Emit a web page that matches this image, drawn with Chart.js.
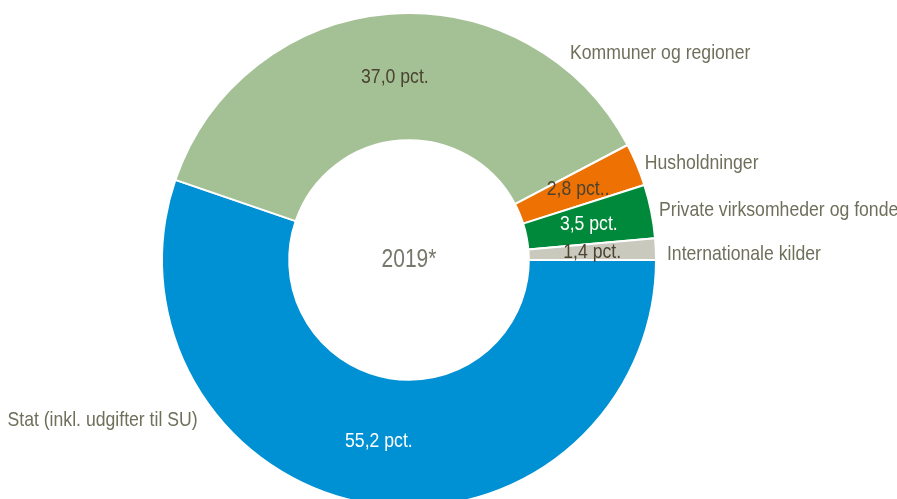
<!DOCTYPE html>
<html>
<head>
<meta charset="utf-8">
<script src="https://cdn.jsdelivr.net/npm/chart.js@4/dist/chart.umd.min.js"></script>
<style>
  html, body { margin: 0; padding: 0; background: #fff; overflow: hidden; }
  #wrap { width: 897px; height: 520px; position: relative; }
</style>
</head>
<body>
<div id="wrap"><canvas id="chartcontainer"></canvas></div>
<script>
// kategorier og andele (pct.)
var categories = ["Stat (inkl. udgifter til SU)", "Kommuner og regioner", "Husholdninger", "Private virksomheder og fonde", "Internationale kilder"];
var shares = [55.2, 37.0, 2.8, 3.5, 1.4];
var valueLabels = ["55,2 pct.", "37,0 pct.", "2,8 pct..", "3,5 pct.", "1,4 pct."];
var centerText = "2019*";

var colors = ['#0090d4', '#a4c196', '#ee7203', '#00893a', '#c9c9bd'];
var valueColors = ['#ffffff', '#4b4332', '#4b4332', '#ffffff', '#4b4332'];
var FONT = "'Liberation Sans', Arial, sans-serif";
var NARROW = 0.84; // smal skrift (Arial Narrow-agtig)

// placering af de ydre etiketter: vinkel (grader fra kl. 12) og afstand fra yderkanten
var outerAngle = [232.9, 37.9, 67.6, 78.7, 88.7];
var outerGap = [18, 15, 8, 8, 11];

function narrowText(ctx, text, x, y, align, size) {
    ctx.save();
    ctx.font = size + 'px ' + FONT;
    ctx.textAlign = align;
    ctx.textBaseline = 'middle';
    ctx.translate(x, y);
    ctx.scale(NARROW, 1);
    ctx.fillText(text, 0, 0);
    ctx.restore();
}

var labelPlugin = {
    id: 'labelPlugin',
    afterDatasetsDraw: function(chart) {
        var ctx = chart.ctx;
        var arcs = chart.getDatasetMeta(0).data;
        ctx.save();
        for (var i = 0; i < arcs.length; i++) {
            var a = arcs[i];
            var mid = (a.startAngle + a.endAngle) / 2;
            var rMid = (a.innerRadius + a.outerRadius) / 2;
            // tal i stykket
            ctx.fillStyle = valueColors[i];
            narrowText(ctx, valueLabels[i], a.x + Math.cos(mid) * rMid, a.y + Math.sin(mid) * rMid, 'center', 21);
            // navn udenfor
            var ang = (outerAngle[i] - 90) * Math.PI / 180;
            var rOut = a.outerRadius + outerGap[i];
            ctx.fillStyle = '#6f6f5c';
            narrowText(ctx, categories[i], a.x + Math.cos(ang) * rOut, a.y + Math.sin(ang) * rOut,
                Math.cos(ang) >= 0 ? 'left' : 'right', 21);
        }
        // årstal i midten
        var a0 = arcs[0];
        ctx.fillStyle = '#77776a';
        narrowText(ctx, centerText, a0.x, a0.y, 'center', 25);
        ctx.restore();
    }
};

var ctx = document.getElementById("chartcontainer").getContext('2d');
var chart = new Chart(ctx, {
    type: 'doughnut',
    data: {
        labels: categories,
        datasets: [{
            data: shares,
            backgroundColor: colors,
            borderColor: '#ffffff',
            borderWidth: 2
        }]
    },
    options: {
        responsive: true,
        maintainAspectRatio: false,
        animation: false,
        rotation: 90,
        cutout: '48.5%',
        layout: {
            padding: { top: 12, bottom: 12, left: 0, right: 79 }
        },
        plugins: {
            legend: { display: false },
            tooltip: { enabled: false }
        }
    },
    plugins: [labelPlugin]
});
</script>
</body>
</html>
